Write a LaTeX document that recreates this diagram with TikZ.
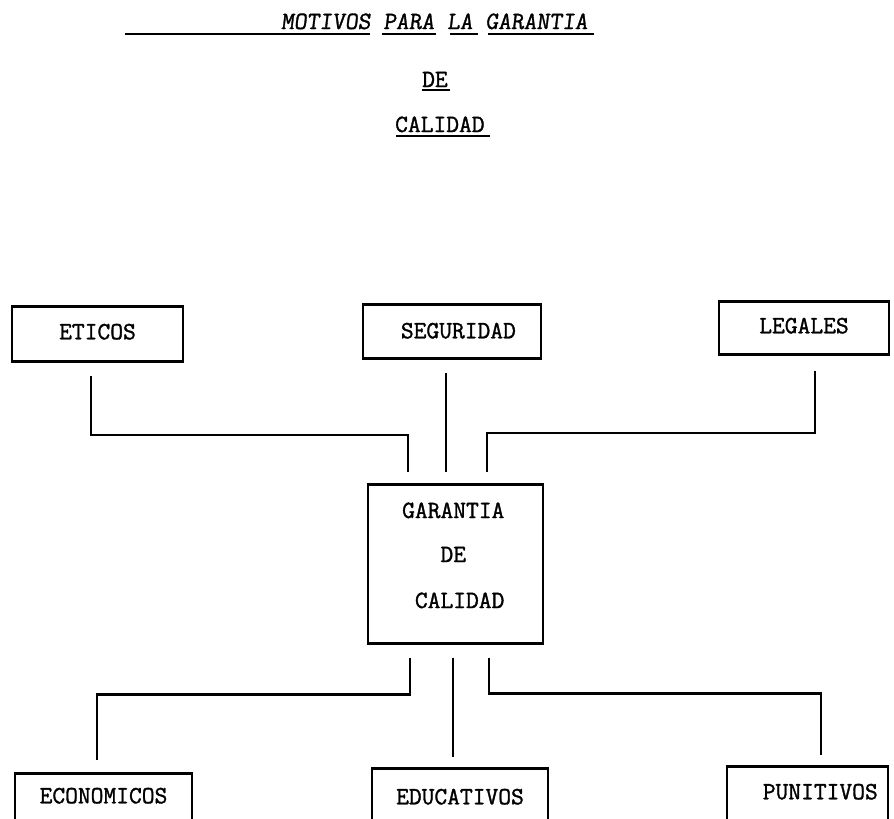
\documentclass[tikz,border=0pt]{standalone}
\usepackage{fontspec}
\newfontfamily\typefont[FakeBold=1.3]{Latin Modern Mono}
\newfontfamily\slantfont[FakeBold=1.3,FakeSlant=0.12]{Latin Modern Mono}
\begin{document}
\begin{tikzpicture}[x=1pt,y=-1pt,
  lbl/.style={inner sep=0pt,anchor=base west,font=\typefont\fontsize{24.8}{27}\selectfont},
  boxnode/.style={draw,line width=2.6pt,inner sep=0pt,anchor=north,font=\typefont\fontsize{24.8}{27}\selectfont},
  conn/.style={line width=2.8pt},
  uline/.style={line width=2pt}]
\useasboundingbox (0,0) rectangle (894,819);
\clip (0,0) rectangle (894,819);

% title
\node[lbl,font=\slantfont\fontsize{24.8}{27}\selectfont] (title1) at (281,29) {MOTIVOS PARA LA GARANTIA};
\node[lbl] (title2) at (422,87) {DE};
\node[lbl] (title3) at (395,132) {CALIDAD};
\draw[uline] (125,34) -- (370,34);
\draw[uline] (382,34) -- (436,34);
\draw[uline] (450,34) -- (478,34);
\draw[uline] (488,34) -- (594,34);
\draw[uline] (422,90) -- (450,90);
\draw[uline] (396,136) -- (490,136);

% top boxes
\node[boxnode,minimum width=171pt,text height=33pt,text depth=22pt] (eticos) at (97.5,305) {ETICOS};
\node[boxnode,minimum width=178pt,text height=34pt,text depth=20pt] (seguridad) at (452,303) {\hphantom{M}SEGURIDAD};
\node[boxnode,minimum width=170pt,text height=32pt,text depth=21pt] (legales) at (804,300) {LEGALES};

% centre box
\node[boxnode,minimum width=175pt,minimum height=159pt] (garantia) at (455.5,483) {};
\node[lbl] (gtext1) at (402,518) {GARANTIA};
\node[lbl] (gtext2) at (402,562) {\hphantom{MMM}DE};
\node[lbl] (gtext3) at (402,608) {\hphantom{M}CALIDAD};

% bottom boxes
\node[boxnode,minimum width=177pt,text height=30pt,text depth=50pt] (economicos) at (103.5,772) {ECONOMICOS};
\node[boxnode,minimum width=176pt,text height=36pt,text depth=50pt] (educativos) at (460,767) {EDUCATIVOS};
\node[boxnode,minimum width=161pt,text height=33pt,text depth=50pt] (punitivos) at (807.5,765) {\hphantom{MM}PUNITIVOS};

% connectors top
\draw[conn] ([xshift=-6.5pt,yshift=-13pt]eticos.south) |- ([xshift=-47.5pt,yshift=48pt]garantia.north) -- ([xshift=-47.5pt,yshift=11pt]garantia.north);
\draw[conn] ([xshift=-6pt,yshift=-13pt]seguridad.south) -- ([xshift=-9.5pt,yshift=11pt]garantia.north);
\draw[conn] ([xshift=11pt,yshift=-15pt]legales.south) |- ([xshift=31.5pt,yshift=50pt]garantia.north) -- ([xshift=31.5pt,yshift=11pt]garantia.north);

% connectors bottom
\draw[conn] ([xshift=-45.5pt,yshift=-13pt]garantia.south) -- ([xshift=-45.5pt,yshift=-50pt]garantia.south) -| ([xshift=-6.5pt,yshift=12pt]economicos.north);
\draw[conn] ([xshift=-2.5pt,yshift=-13pt]garantia.south) -- ([xshift=-7pt,yshift=10pt]educativos.north);
\draw[conn] ([xshift=33.5pt,yshift=-13pt]garantia.south) -- ([xshift=33.5pt,yshift=-49pt]garantia.south) -| ([xshift=13.5pt,yshift=10pt]punitivos.north);
\end{tikzpicture}
\end{document}
